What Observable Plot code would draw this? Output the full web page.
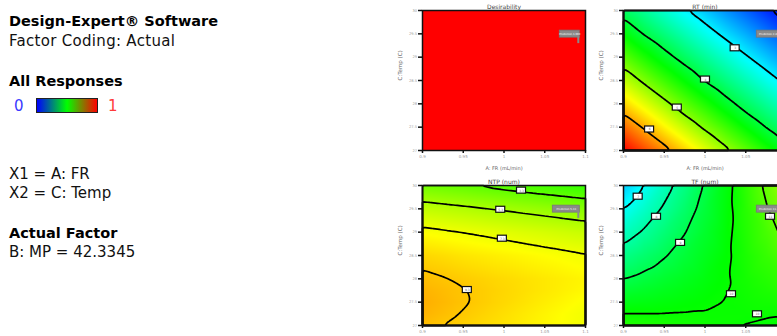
<!DOCTYPE html>
<html><head><meta charset="utf-8">
<script src="https://cdn.jsdelivr.net/npm/d3@7"></script>
<script src="https://cdn.jsdelivr.net/npm/@observablehq/plot@0.6"></script>
<style>
html,body{margin:0;padding:0;background:#fff;width:777px;height:336px;overflow:hidden;}
body{position:relative;font-family:"DejaVu Sans",sans-serif;}
.t{position:absolute;left:9px;white-space:nowrap;color:#111;font-size:15px;line-height:1;}
.b{font-weight:bold;color:#000;font-size:14.5px;}
.panel{position:absolute;width:201px;height:176px;}
#bar{position:absolute;left:36px;top:98px;width:60px;height:13px;border:1px solid #222;background:linear-gradient(to right,#0000ff,#00ff00 50%,#ff0000);}
</style></head><body>
<div class="t b" style="top:14px">Design-Expert® Software</div>
<div class="t" style="top:34px;letter-spacing:0.3px">Factor Coding: Actual</div>
<div class="t b" style="top:73.5px">All Responses</div>
<div class="t" style="top:98.5px;left:14px;color:#3a3aff">0</div>
<div id="bar"></div>
<div class="t" style="top:98.5px;left:108px;color:#ff3a3a">1</div>
<div class="t" style="top:166.5px">X1 = A: FR</div>
<div class="t" style="top:185.5px">X2 = C: Temp</div>
<div class="t b" style="top:225.5px">Actual Factor</div>
<div class="t" style="top:244.5px">B: MP = 42.3345</div>
<div id="p1" class="panel" style="left:389px;top:0px"></div>
<div id="p2" class="panel" style="left:590px;top:0px"></div>
<div id="p3" class="panel" style="left:389px;top:175px"></div>
<div id="p4" class="panel" style="left:590px;top:175px"></div>
<script>
// axes
const xTicks = [0.9, 0.95, 1, 1.05, 1.1];
const xTickLabels = ["0.9", "0.95", "1", "1.05", "1.1"];
const yTicks = [27, 27.5, 28, 28.5, 29, 29.5, 30];
const yTickLabels = ["27", "27.5", "28", "28.5", "29", "29.5", "30"];
const xLabel = "A: FR (mL/min)";
const yLabel = "C:Temp (C)";

// sample grid (columns = FR, rows = Temp)
const gridX = [0.9, 0.925, 0.95, 0.975, 1.0, 1.025, 1.05, 1.075, 1.1];
const gridY = [27, 27.25, 27.5, 27.75, 28, 28.5, 29, 29.5, 30];

const desirability = [
  [1,1,1,1,1,1,1,1,1],[1,1,1,1,1,1,1,1,1],[1,1,1,1,1,1,1,1,1],
  [1,1,1,1,1,1,1,1,1],[1,1,1,1,1,1,1,1,1],[1,1,1,1,1,1,1,1,1],
  [1,1,1,1,1,1,1,1,1],[1,1,1,1,1,1,1,1,1],[1,1,1,1,1,1,1,1,1]
];
const rt = [
  [6.81, 6.47, 6.13, 5.79, 5.44, 5.10, 4.78, 4.46, 4.14],
  [6.56, 6.21, 5.87, 5.53, 5.19, 4.85, 4.54, 4.22, 3.92],
  [6.30, 5.96, 5.61, 5.27, 4.93, 4.62, 4.30, 3.99, 3.72],
  [6.04, 5.70, 5.36, 5.01, 4.70, 4.38, 4.06, 3.78, 3.51],
  [5.78, 5.44, 5.10, 4.77, 4.46, 4.14, 3.85, 3.58, 3.31],
  [5.27, 4.93, 4.61, 4.30, 3.98, 3.71, 3.44, 3.17, 2.91],
  [4.77, 4.45, 4.14, 3.85, 3.58, 3.31, 3.04, 2.79, 2.54],
  [4.30, 3.98, 3.71, 3.44, 3.17, 2.91, 2.67, 2.42, 2.18],
  [3.85, 3.58, 3.30, 3.03, 2.79, 2.54, 2.30, 2.05, 1.82]
];
const ntp = [
  [9.55, 9.28, 9.01, 8.74, 8.47, 8.20, 7.93, 7.66, 7.39],
  [9.86, 9.55, 9.24, 8.93, 8.62, 8.31, 8.00, 7.69, 7.38],
  [10.00, 9.70, 9.40, 9.10, 8.80, 8.50, 8.20, 7.90, 7.60],
  [9.85, 9.60, 9.35, 9.10, 8.85, 8.60, 8.35, 8.10, 7.85],
  [9.58, 9.37, 9.15, 8.95, 8.75, 8.55, 8.35, 8.15, 7.95],
  [8.85, 8.66, 8.43, 8.26, 8.08, 7.91, 7.73, 7.56, 7.38],
  [7.66, 7.47, 7.29, 7.10, 6.91, 6.72, 6.54, 6.35, 6.16],
  [5.99, 5.78, 5.58, 5.37, 5.16, 4.95, 4.75, 4.54, 4.33],
  [3.73, 3.51, 3.29, 3.07, 2.85, 2.63, 2.41, 2.19, 1.97]
];
const tf = [
  [10.34, 10.28, 10.23, 10.17, 10.11, 10.05, 9.99, 9.94, 9.88],
  [10.01, 10.01, 10.01, 10.02, 10.02, 10.03, 10.03, 10.04, 10.04],
  [9.67, 9.73, 9.80, 9.87, 9.94, 10.01, 10.07, 10.14, 10.21],
  [9.33, 9.46, 9.59, 9.72, 9.85, 9.98, 10.11, 10.24, 10.37],
  [8.99, 9.18, 9.38, 9.57, 9.76, 9.95, 10.15, 10.34, 10.53],
  [8.32, 8.63, 8.95, 9.27, 9.59, 9.90, 10.22, 10.54, 10.86],
  [7.64, 8.08, 8.53, 8.97, 9.41, 9.85, 10.30, 10.74, 11.18],
  [6.97, 7.53, 8.10, 8.67, 9.24, 9.80, 10.37, 10.94, 11.51],
  [6.29, 6.98, 7.68, 8.37, 9.06, 9.75, 10.45, 11.14, 11.83]
];

// contour levels
const rtLevels = [2, 3, 4, 5, 6];
const ntpLevels = [3.3, 5.3, 7.3, 9.3];
const tfLevels = [7, 8, 9, 10, 11];

// contour label boxes
const rtLabelX = [0.932, 0.966, 1.0006, 1.037];
const rtLabelY = [27.45, 27.92, 28.52, 29.19];
const rtLabelText = ["6", "5", "4", "3"];
const ntpLabelX = [1.0215, 0.996, 0.998, 0.955];
const ntpLabelY = [29.89, 29.48, 28.86, 27.76];
const ntpLabelText = ["3.3", "5.3", "7.3", "9.3"];
const tfLabelX = [0.918, 0.9405, 0.970, 1.0325, 1.0644, 1.0804];
const tfLabelY = [29.76, 29.33, 28.77, 27.67, 27.24, 29.33];
const tfLabelText = ["7", "8", "9", "10", "10", "11"];

// optimum flag
const flagX = [1.093];
const flagY = [29.29];
const flagText = ["Prediction 1.000", "Prediction 2.40", "Prediction 5.33", "Prediction 11.2"];
const flagWidth = [20, 24, 27, 24];

// colours
const palette = ["#0000ff", "#00ffff", "#00ff00", "#ffff00", "#ff0000"];
const desirabilityColorRange = [0, 1];
const rtColorRange = [1.82, 6.81];
const ntpColorRange = [-13.8, 14.9];
const tfColorRange = [3.91, 15.93];

const panels = [
  {id: "p1", title: "Desirability", grid: desirability, levels: [], colorRange: desirabilityColorRange,
   lx: [], ly: [], lt: [], k: 0},
  {id: "p2", title: "RT (min)", grid: rt, levels: rtLevels, colorRange: rtColorRange,
   lx: rtLabelX, ly: rtLabelY, lt: rtLabelText, k: 1},
  {id: "p3", title: "NTP (num)", grid: ntp, levels: ntpLevels, colorRange: ntpColorRange,
   lx: ntpLabelX, ly: ntpLabelY, lt: ntpLabelText, k: 2},
  {id: "p4", title: "TF (num)", grid: tf, levels: tfLevels, colorRange: tfColorRange,
   lx: tfLabelX, ly: tfLabelY, lt: tfLabelText, k: 3}
];

const X0 = xTicks[0], X1 = xTicks[xTicks.length - 1];
const Y0 = yTicks[0], Y1 = yTicks[yTicks.length - 1];

function makePanel(p) {
  const data = [];
  gridY.forEach((y, j) => gridX.forEach((x, i) => data.push({x, y, v: p.grid[j][i]})));
  const [lo, hi] = p.colorRange;
  const dom = palette.map((_, k) => lo + (hi - lo) * k / (palette.length - 1));
  const labels = p.lx.map((x, k) => ({x, y: p.ly[k], t: p.lt[k]}));
  const flag = flagX.map((x, k) => ({x, y: flagY[k], t: flagText[p.k]}));
  const fw = flagWidth[p.k];
  const marks = [
    Plot.raster(data, {x: "x", y: "y", fill: "v", interpolate: "barycentric",
      x1: X0, x2: X1, y1: Y0, y2: Y1, imageRendering: "auto"})
  ];
  if (p.levels.length) {
    marks.push(Plot.contour(data, {x: "x", y: "y", value: "v", interpolate: "barycentric",
      x1: X0, x2: X1, y1: Y0, y2: Y1, blur: 1,
      thresholds: p.levels, stroke: "#000", strokeWidth: 1.7, fill: "none"}));
  }
  marks.push(
    Plot.rect(labels, {x1: "x", x2: "x", y1: "y", y2: "y", insetLeft: -4.5, insetRight: -4.5,
      insetTop: -3, insetBottom: -3, fill: "white", stroke: "#111", strokeWidth: 1.2}),
    Plot.text(labels, {x: "x", y: "y", text: "t", fontSize: 3, fill: "#666"}),
    Plot.rect(flag, {x1: "x", x2: "x", y1: "y", y2: "y", insetLeft: -fw, insetRight: 0,
      insetTop: -13, insetBottom: 6, fill: "#8a8a8a", stroke: "#777", strokeWidth: 0.8}),
    Plot.rect(flag, {x1: "x", x2: "x", y1: "y", y2: "y", insetLeft: -2, insetRight: 0,
      insetTop: -7, insetBottom: 0, fill: "#8a8a8a"}),
    Plot.text(flag, {x: "x", y: "y", text: "t", dx: -fw / 2, dy: -9.5, fontSize: 2.6, fill: "white"}),
    Plot.frame({stroke: "#111", strokeWidth: 1.5}),
    Plot.axisX({ticks: xTicks, tickFormat: d => xTickLabels[xTicks.indexOf(d)], tickSize: 3,
      tickPadding: 2, fontSize: 4, fill: "#999", stroke: "#111", strokeWidth: 1.5, label: null}),
    Plot.axisY({ticks: yTicks, tickFormat: d => yTickLabels[yTicks.indexOf(d)], tickSize: 4,
      tickPadding: 1.5, fontSize: 3.6, fill: "#999", stroke: "#111", strokeWidth: 1.5, label: null}),
    Plot.text([p.title], {text: d => d, frameAnchor: "top", lineAnchor: "bottom", dy: -2,
      fontSize: 6, fill: "#444"}),
    Plot.text([yLabel], {text: d => d, frameAnchor: "left", rotate: -90, dx: -22,
      fontSize: 5.5, fill: "#666"}),
    Plot.text([xLabel], {text: d => d, frameAnchor: "bottom", dy: 19.5,
      fontSize: 5, fill: "#666"})
  );
  return Plot.plot({
    width: 201, height: 176,
    marginLeft: 33, marginRight: 5, marginTop: 10, marginBottom: 26,
    style: {fontFamily: "DejaVu Sans, sans-serif", background: "transparent", overflow: "visible"},
    x: {domain: [X0, X1]},
    y: {domain: [Y0, Y1]},
    color: {type: "linear", domain: dom, range: palette, interpolate: "rgb", clamp: true},
    marks
  });
}

panels.forEach(p => document.getElementById(p.id).appendChild(makePanel(p)));
</script>
</body></html>
